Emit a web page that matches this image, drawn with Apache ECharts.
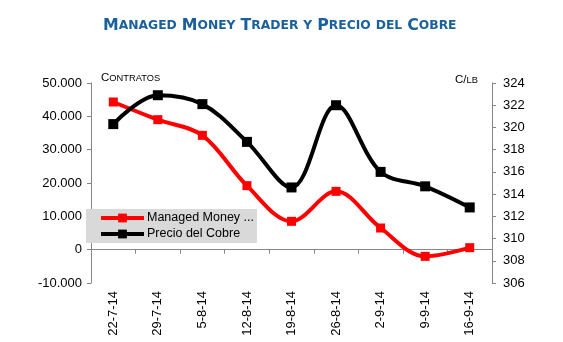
<!DOCTYPE html>
<html>
<head>
<meta charset="utf-8">
<script src="https://cdn.jsdelivr.net/npm/echarts@6/dist/echarts.min.js"></script>
<style>html,body{margin:0;padding:0;background:#fff;}#c{width:563px;height:342px;}</style>
</head>
<body>
<div id="c"></div>
<script>
const categories = ['22-7-14','29-7-14','5-8-14','12-8-14','19-8-14','26-8-14','2-9-14','9-9-14','16-9-14'];
const managedMoney = [44300, 39000, 34300, 19200, 8500, 17500, 6500, -2000, 600];
const precioCobre = [320.3, 322.9, 322.1, 318.7, 314.6, 322.0, 316.0, 314.7, 312.8];
const seriesNames = ['Managed Money Trader', 'Precio del Cobre'];

const FONT = '"Liberation Sans", Arial, sans-serif';
const AXIS = '#868686';
const chart = echarts.init(document.getElementById('c'), null, {renderer: 'canvas'});
chart.setOption({
  backgroundColor: '#ffffff',
  animation: false,
  title: [
    {
      text: '{b|M}{s|ANAGED} {b|M}{s|ONEY} {b|T}{s|RADER} {s|Y} {b|P}{s|RECIO} {s|DEL} {b|C}{s|OBRE}',
      left: 98, top: 12,
      textStyle: {
        rich: {
          b: {fontFamily: '"DejaVu Sans", Verdana, sans-serif', fontWeight: 'bold', fontSize: 15.8, color: '#1b609e'},
          s: {fontFamily: '"DejaVu Sans", Verdana, sans-serif', fontWeight: 'bold', fontSize: 12.3, color: '#1b609e'}
        }
      }
    },
    {
      text: '{b|C}{s|ONTRATOS}',
      left: 96, top: 67,
      textStyle: {
        rich: {
          b: {fontFamily: FONT, fontWeight: 'normal', fontSize: 11.5, color: '#000'},
          s: {fontFamily: FONT, fontWeight: 'normal', fontSize: 9.3, color: '#000'}
        }
      }
    },
    {
      text: '{b|C/}{s|LB}',
      left: 450, top: 69,
      textStyle: {
        rich: {
          b: {fontFamily: FONT, fontWeight: 'normal', fontSize: 11.5, color: '#000'},
          s: {fontFamily: FONT, fontWeight: 'normal', fontSize: 9.3, color: '#000'}
        }
      }
    }
  ],
  legend: {
    orient: 'vertical',
    left: 86, top: 209,
    backgroundColor: '#d9d9d9',
    padding: [2, 3, 2, 13],
    itemWidth: 43, itemHeight: 11, itemGap: 2,
    data: seriesNames,
    lineStyle: {width: 4},
    formatter: function (n) { return n === 'Managed Money Trader' ? 'Managed Money ...' : n; },
    textStyle: {fontFamily: FONT, fontSize: 12.5, color: '#000', lineHeight: 14, padding: [0, 0, 0, -2]}
  },
  grid: {left: 91, right: 71, top: 83, bottom: 59, containLabel: false},
  xAxis: {
    type: 'category',
    data: categories,
    boundaryGap: true,
    axisLine: {show: true, onZero: true, onZeroAxisIndex: 0, lineStyle: {color: AXIS, width: 1}},
    axisTick: {show: true, length: 4, lineStyle: {color: AXIS}},
    axisLabel: {rotate: 90, interval: 0, margin: 8, fontFamily: FONT, fontSize: 13, color: '#000'},
    splitLine: {show: false}
  },
  yAxis: [
    {
      type: 'value', position: 'left',
      min: -10000, max: 50000, interval: 10000,
      axisLine: {show: true, lineStyle: {color: AXIS, width: 1}},
      axisTick: {show: true, length: 4, lineStyle: {color: AXIS}},
      axisLabel: {margin: 9, fontFamily: FONT, fontSize: 13, color: '#000',
        formatter: function (v) { return v === 0 ? '0' : (v < 0 ? '-' : '') + String(Math.abs(v)).replace(/\B(?=(\d{3})+(?!\d))/g, '.'); }},
      splitLine: {show: false}
    },
    {
      type: 'value', position: 'right',
      min: 306, max: 324, interval: 2,
      axisLine: {show: true, lineStyle: {color: AXIS, width: 1}},
      axisTick: {show: true, length: 4, lineStyle: {color: AXIS}},
      axisLabel: {margin: 11, fontFamily: FONT, fontSize: 13, color: '#000'},
      splitLine: {show: false}
    }
  ],
  series: [
    {
      name: seriesNames[0], type: 'line', yAxisIndex: 0,
      data: managedMoney, smooth: 0.35,
      symbol: 'rect', symbolSize: 9,
      lineStyle: {color: '#ff0000', width: 4},
      itemStyle: {color: '#ff0000'}
    },
    {
      name: seriesNames[1], type: 'line', yAxisIndex: 1,
      data: precioCobre, smooth: 0.35,
      symbol: 'rect', symbolSize: 10,
      lineStyle: {color: '#000000', width: 4},
      itemStyle: {color: '#000000'}
    }
  ]
});
</script>
</body>
</html>
